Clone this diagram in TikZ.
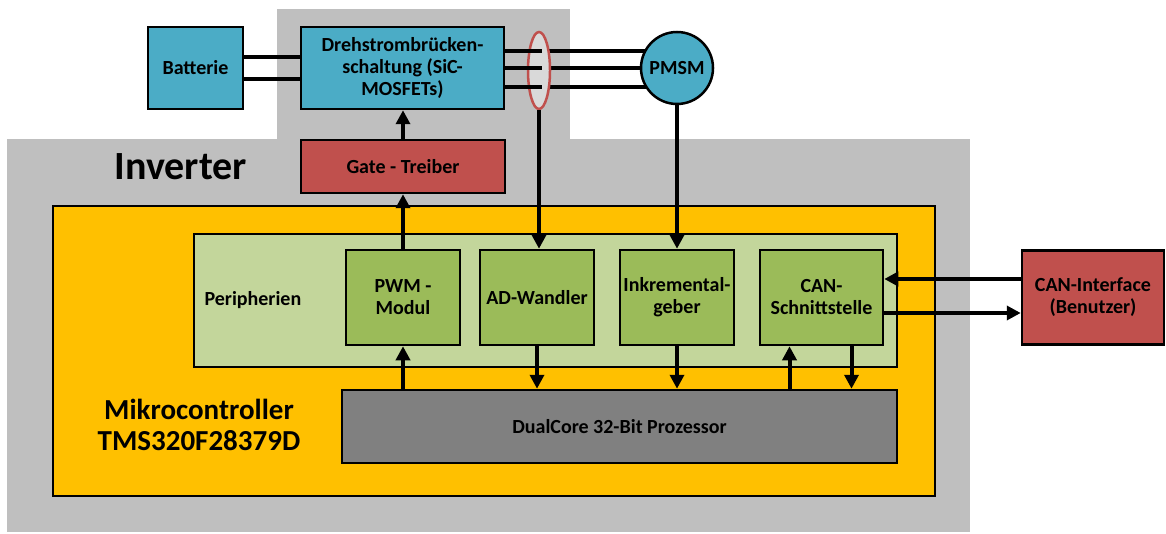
\documentclass[tikz,border=0pt]{standalone}
\usepackage{fontspec}
\setmainfont{Carlito}
\usetikzlibrary{arrows.meta,calc,shapes.geometric}
\pgfdeclarelayer{back}
\pgfdeclarelayer{wires}
\pgfsetlayers{back,wires,main}

\definecolor{cblue}{HTML}{4BACC6}
\definecolor{cred}{HTML}{C0504D}
\definecolor{cyellow}{HTML}{FFC000}
\definecolor{cgray}{HTML}{BFBFBF}
\definecolor{clgreen}{HTML}{C3D69B}
\definecolor{cgreen}{HTML}{9BBB59}
\definecolor{cdgray}{HTML}{808080}
\definecolor{cell}{HTML}{D9D9D9}

\tikzset{
  blk/.style={draw=black, line width=2.5pt, align=center, inner sep=0pt,
    font=\fontsize{20}{22}\selectfont\bfseries},
  bluebox/.style={blk, fill=cblue},
  redbox/.style={blk, fill=cred},
  modbox/.style={blk, fill=cgreen, minimum width=114pt, minimum height=95pt},
  wire/.style={line width=4pt},
  arr/.style={line width=4pt, -{Triangle[length=14pt,width=14pt]}},
}

\begin{document}
\begin{tikzpicture}[x=1pt,y=-1pt]
\useasboundingbox (0,0) rectangle (1166,534);

\begin{pgfonlayer}{back}
% housing of the inverter
\fill[cgray] (277,9) rectangle (570,140);
\fill[cgray] (7,139) rectangle (970,532);
% microcontroller board
\draw[fill=cyellow, line width=2.5pt] (53,206) rectangle (935,496);
% peripheral area
\draw[fill=clgreen, line width=2.5pt] (194,234) rectangle (897,367);
\end{pgfonlayer}

\node[font=\fontsize{40}{44}\selectfont\bfseries, anchor=west] (inv) at (111,167) {Inverter};
\node[font=\fontsize{29}{31}\selectfont\bfseries, align=center] (mcu) at (199,425) {Mikrocontroller\\TMS320F28379D};
\node[font=\fontsize{20}{22}\selectfont\bfseries, anchor=west] (per) at (201,300) {Peripherien};

\node[modbox] (pwm) at (403,297.5) {PWM -\\Modul};
\node[modbox] (ad) at (537,297.5) {AD-Wandler};
\node[modbox] (ink) at (677,297.5) {Inkremental-\\geber};
\node[modbox, minimum width=123pt] (can) at (821.5,297.5) {CAN-\\Schnittstelle};

\node[blk, fill=cdgray, minimum width=555pt, minimum height=73pt] (cpu) at (619.5,426.5) {DualCore 32-Bit Prozessor};

% power path
\node[bluebox, minimum width=95pt, minimum height=82pt] (bat) at (195.5,68) {Batterie};
\node[bluebox, minimum width=203pt, minimum height=82pt] (dreh) at (402.5,68) {Drehstrombrücken-\\schaltung (SiC-\\MOSFETs)};
\node[redbox, minimum width=204pt, minimum height=53pt] (gate) at (403,166.5) {Gate - Treiber};
\node[ellipse, draw=cred, fill=cell, line width=2.5pt, minimum width=22pt, minimum height=77pt, inner sep=0pt] (ell) at (539,70.5) {};
\node[blk, circle, fill=cblue, minimum size=72pt] (pmsm) at (677,68) {PMSM};
\node[redbox, minimum width=142pt, minimum height=94pt] (cani) at (1093,297.5) {CAN-Interface\\(Benutzer)};

% DC link
\draw[wire] ([yshift=11pt]bat.east) -- ([yshift=11pt]bat.east -| dreh.west);
\draw[wire] ([yshift=-11pt]bat.east) -- ([yshift=-11pt]bat.east -| dreh.west);

% three phases
\foreach \dy in {17,0,-19} {
  \draw[wire] ([yshift=\dy pt]dreh.east) -- ([yshift=\dy pt,xshift=3pt]dreh.east -| ell.center);
  \begin{pgfonlayer}{wires}
    \draw[wire] ([yshift=\dy pt]dreh.east -| ell.center) -- ([yshift=\dy pt]dreh.east -| pmsm.center);
  \end{pgfonlayer}
}

% measurement and control signals
\draw[arr] (ell.south) -- (ell.south |- ad.north);
\draw[arr] (pmsm.south) -- (pmsm.south |- ink.north);
\draw[arr] (pwm.north) -- (gate.south);
\draw[arr] (gate.north) -- (gate.north |- dreh.south);

% processor bus
\draw[arr] (pwm.south |- cpu.north) -- (pwm.south);
\draw[arr] (ad.south) -- (ad.south |- cpu.north);
\draw[arr] (ink.south) -- (ink.south |- cpu.north);
\draw[arr] ([xshift=-32pt]can.south |- cpu.north) -- ([xshift=-32pt]can.south);
\draw[arr] ([xshift=30pt]can.south) -- ([xshift=30pt]can.south |- cpu.north);

% CAN bus
\draw[arr] ([yshift=18.5pt]cani.west) -- ([yshift=18.5pt]cani.west -| can.east);
\draw[arr] ([yshift=-15.5pt]can.east) -- ([yshift=-15.5pt]can.east -| cani.west);
\end{tikzpicture}
\end{document}
